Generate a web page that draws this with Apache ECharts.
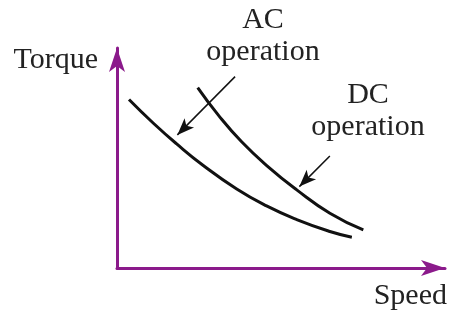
<!DOCTYPE html>
<html>
<head>
<meta charset="utf-8">
<script src="https://cdn.jsdelivr.net/npm/echarts@6/dist/echarts.min.js"></script>
<style>
  html, body { margin: 0; padding: 0; background: #fff; }
  #chart { width: 452px; height: 320px; }
</style>
</head>
<body>
<div id="chart"></div>
<script>
// torque-speed curves (axes are unitless 0..100)
const acSpeed = [3.66, 11.1, 18.2, 26.3, 36.5, 45.6, 54.8, 64.9, 71.6];
const acTorque = [76.6, 65.8, 56.4, 46.6, 35.9, 28.2, 22.0, 16.6, 14.0];
const dcSpeed = [24.6, 30.9, 38.0, 46.1, 54.8, 64.9, 75.1];
const dcTorque = [82.0, 69.5, 57.4, 46.0, 35.5, 24.9, 17.3];

// pointer arrows: [from, to]
const acPointer = [[36.0, 87.0], [18.4, 60.5]];
const dcPointer = [[64.9, 50.9], [55.6, 37.0]];

const labelFont = 'Liberation Serif';
const axisColor = '#8b1a8b';

const zip = (xs, ys) => xs.map((x, i) => [x, ys[i]]);

const chart = echarts.init(document.getElementById('chart'));

const axisBase = {
    type: 'value',
    min: 0,
    max: 100,
    axisLine: {
        show: true,
        symbol: ['none', 'arrow'],
        symbolSize: [12, 24],
        lineStyle: { color: axisColor, width: 3 }
    },
    axisTick: { show: false },
    axisLabel: { show: false },
    splitLine: { show: false }
};

const pointer = (coords) => ({
    silent: true,
    symbol: ['none', 'arrow'],
    symbolSize: [10, 17],
    label: { show: false },
    lineStyle: { color: '#111', width: 1.5, type: 'solid' },
    data: [[{ coord: coords[0] }, { coord: coords[1] }]]
});

const option = {
    animation: false,
    grid: { left: 117, right: 7, top: 48, bottom: 52 },
    xAxis: Object.assign({}, axisBase, {
        name: 'Speed',
        nameLocation: 'end',
        nameGap: 2,
        nameTextStyle: {
            fontFamily: labelFont, fontSize: 30, color: '#222',
            align: 'right', verticalAlign: 'top', padding: [13, 0, 0, 0]
        }
    }),
    yAxis: Object.assign({}, axisBase, {
        name: 'Torque',
        nameLocation: 'end',
        nameGap: -12,
        nameTextStyle: {
            fontFamily: labelFont, fontSize: 30, color: '#222',
            align: 'right', verticalAlign: 'middle', padding: [0, 19, 0, 0]
        }
    }),
    series: [
        {
            name: 'AC operation',
            type: 'line',
            data: zip(acSpeed, acTorque),
            smooth: 0.5,
            showSymbol: false,
            lineStyle: { color: '#111', width: 3 },
            markLine: pointer(acPointer)
        },
        {
            name: 'DC operation',
            type: 'line',
            data: zip(dcSpeed, dcTorque),
            smooth: 0.5,
            showSymbol: false,
            lineStyle: { color: '#111', width: 3 },
            markLine: pointer(dcPointer)
        }
    ],
    graphic: [
        {
            type: 'text',
            x: 263, y: 4,
            style: {
                text: 'AC\noperation',
                font: '30px "' + labelFont + '"',
                lineHeight: 32,
                fill: '#222',
                align: 'center',
                verticalAlign: 'top'
            }
        },
        {
            type: 'text',
            x: 368, y: 79,
            style: {
                text: 'DC\noperation',
                font: '30px "' + labelFont + '"',
                lineHeight: 32,
                fill: '#222',
                align: 'center',
                verticalAlign: 'top'
            }
        }
    ]
};

chart.setOption(option);
</script>
</body>
</html>
